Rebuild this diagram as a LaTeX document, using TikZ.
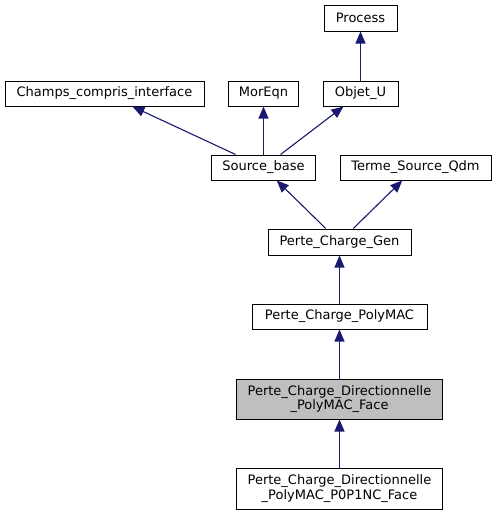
\documentclass[tikz,border=0pt]{standalone}
\usepackage{fontspec}
\setmainfont{DejaVu Sans}
\usetikzlibrary{arrows.meta}
\definecolor{edgeblue}{HTML}{191970}
\definecolor{focusgray}{HTML}{BFBFBF}
\begin{document}
\begin{tikzpicture}[x=1pt,y=-1pt,
  cls/.style={draw=black,line width=1pt,inner sep=0pt,minimum height=25pt,font=\fontsize{13}{14.5}\selectfont,align=center,fill=white},
  inh/.style={draw=edgeblue,line width=1.1pt,-{Triangle[length=12pt,width=10pt]}}]
\useasboundingbox (0,0) rectangle (496,515);
\node[cls,minimum width=73pt,minimum height=26pt] (proc) at (360.5,18) {Process};
\node[cls,minimum width=199pt] (champs) at (104.5,93.5) {Champs\_compris\_interface};
\node[cls,minimum width=70pt] (moreqn) at (263.5,93.5) {MorEqn};
\node[cls,minimum width=75pt] (objet) at (360.5,93.5) {Objet\_U};
\node[cls,minimum width=104pt] (source) at (263.5,167.5) {Source\_base};
\node[cls,minimum width=151pt] (terme) at (415.5,167.5) {Terme\_Source\_Qdm};
\node[cls,minimum width=143pt,minimum height=26pt] (gen) at (339.5,242) {Perte\_Charge\_Gen};
\node[cls,minimum width=175pt] (poly) at (339.5,316.5) {Perte\_Charge\_PolyMAC};
\node[cls,minimum width=206pt,minimum height=40pt,fill=focusgray] (face) at (339.5,399) {Perte\_Charge\_Directionnelle\\\_PolyMAC\_Face};
\node[cls,minimum width=206pt,minimum height=41pt] (p0p1) at (339.5,488.5) {Perte\_Charge\_Directionnelle\\\_PolyMAC\_P0P1NC\_Face};
\draw[inh] (objet) -- (proc);
\draw[inh] (source) -- (champs);
\draw[inh] (source) -- (moreqn);
\draw[inh] (source) -- (objet);
\draw[inh] (gen) -- (source);
\draw[inh] (gen) -- (terme);
\draw[inh] (poly) -- (gen);
\draw[inh] (face) -- (poly);
\draw[inh] (p0p1) -- (face);
\end{tikzpicture}
\end{document}
